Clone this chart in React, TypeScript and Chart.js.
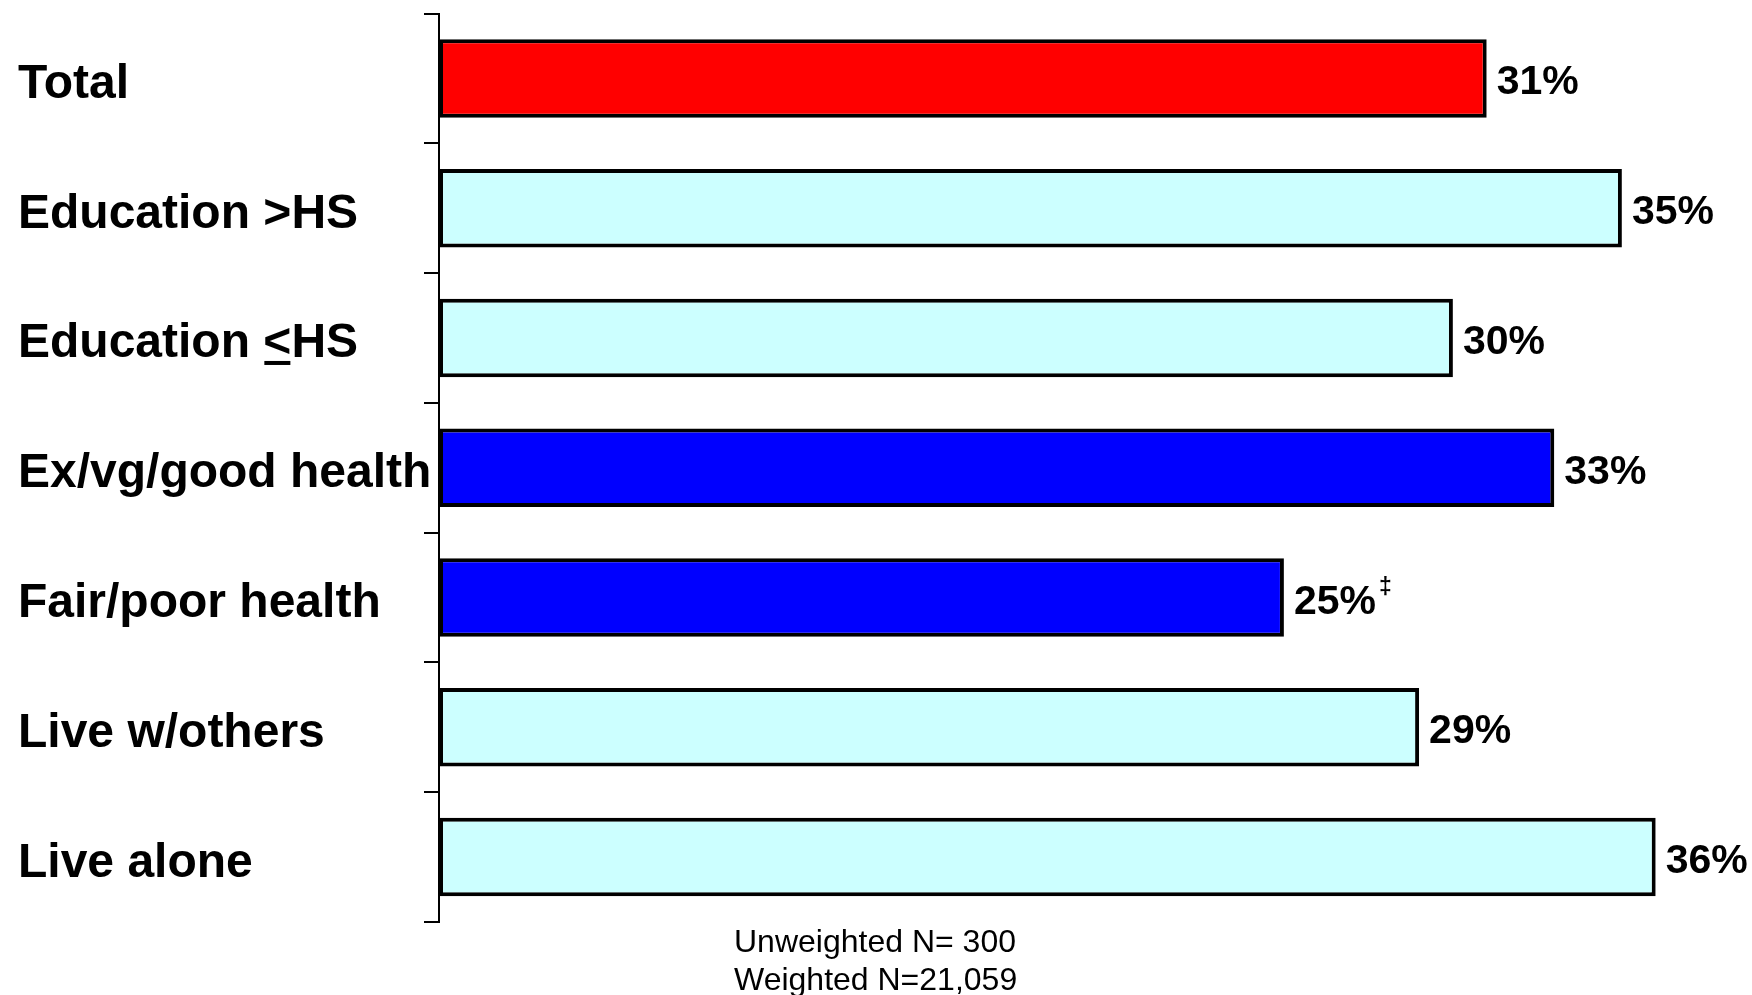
import React, { useEffect, useRef } from "react";
import { Chart, registerables } from "chart.js";

Chart.register(...registerables);

const categories = [
  "Total",
  "Education >HS",
  "Education <HS",
  "Ex/vg/good health",
  "Fair/poor health",
  "Live w/others",
  "Live alone",
];
const values = [31, 35, 30, 33, 25, 29, 36];
const barColors = ["#FF0000", "#CCFFFF", "#CCFFFF", "#0000FF", "#0000FF", "#CCFFFF", "#CCFFFF"];
const valueNotes = ["", "", "", "", "‡", "", ""];
const underlinedChar: Record<number, number> = { 2: 10 }; // index of "<" in "Education <HS"
const footnoteLines = ["Unweighted N= 300", "Weighted N=21,059"];

const FONT = "'Liberation Sans', Arial, Helvetica, sans-serif";
const CAT_SIZE = 48;
const VAL_SIZE = 41;

const labelPlugin = {
  id: "customLabels",
  afterDatasetsDraw(chart: any) {
    const ctx = chart.ctx;
    const meta = chart.getDatasetMeta(0);
    const yScale = chart.scales.y;
    ctx.save();
    ctx.fillStyle = "#000";
    ctx.textAlign = "left";
    ctx.textBaseline = "alphabetic";
    // value labels
    meta.data.forEach((bar: any, i: number) => {
      const txt = values[i] + "%";
      ctx.font = `bold ${VAL_SIZE}px ${FONT}`;
      const x = bar.x + 10;
      const y = bar.y + 16;
      ctx.fillText(txt, x, y);
      if (valueNotes[i]) {
        const w = ctx.measureText(txt).width;
        ctx.font = `bold 23px ${FONT}`;
        ctx.fillText(valueNotes[i], x + w + 3, y - 20);
      }
    });
    // category labels
    ctx.font = `bold ${CAT_SIZE}px ${FONT}`;
    categories.forEach((label, i) => {
      const y = yScale.getPixelForValue(i);
      ctx.fillText(label, 18, y + 19.5);
      const pos = underlinedChar[i];
      if (pos !== undefined) {
        const before = ctx.measureText(label.slice(0, pos)).width;
        const cw = ctx.measureText(label.charAt(pos)).width;
        ctx.fillRect(18 + before + 1, y + 23, cw - 2, 4);
      }
    });
    ctx.restore();
  },
};

export default function App() {
  const canvasRef = useRef<HTMLCanvasElement | null>(null);

  useEffect(() => {
    const canvas = canvasRef.current;
    if (!canvas) return;
    const chart = new Chart(canvas, {
      type: "bar",
      data: {
        labels: categories,
        datasets: [
          {
            data: values,
            backgroundColor: barColors,
            borderColor: "#000",
            borderWidth: 4,
            borderSkipped: false,
            categoryPercentage: 1,
            barPercentage: 0.605,
          },
        ],
      },
      options: {
        indexAxis: "y",
        animation: false,
        responsive: false,
        maintainAspectRatio: false,
        layout: { padding: { left: 18, top: 13.5, right: 0, bottom: 73 } },
        plugins: {
          legend: { display: false },
          tooltip: { enabled: false },
          title: { display: false },
        },
        scales: {
          x: {
            display: false,
            min: 0,
            max: 38.85,
          },
          y: {
            position: "left",
            offset: true,
            border: { display: true, color: "#000", width: 2 },
            grid: {
              display: true,
              offset: true,
              drawOnChartArea: false,
              drawTicks: true,
              tickLength: 15,
              color: "#000",
              lineWidth: 2,
            },
            ticks: {
              display: false,
              autoSkip: false,
            },
            afterFit(scale: any) {
              scale.width = 421;
            },
          },
        },
      },
      plugins: [labelPlugin],
    });
    return () => chart.destroy();
  }, []);

  return (
    <div style={{ position: "fixed", left: 0, top: 0, width: 1752, height: 995, background: "#fff" }}>
      <canvas ref={canvasRef} width={1752} height={995} style={{ display: "block" }} />
      <div
        style={{
          position: "absolute",
          left: 734,
          top: 922,
          fontFamily: FONT,
          fontSize: 32,
          lineHeight: "38px",
          color: "#000",
        }}
      >
        {footnoteLines.map((l) => (
          <div key={l}>{l}</div>
        ))}
      </div>
    </div>
  );
}
